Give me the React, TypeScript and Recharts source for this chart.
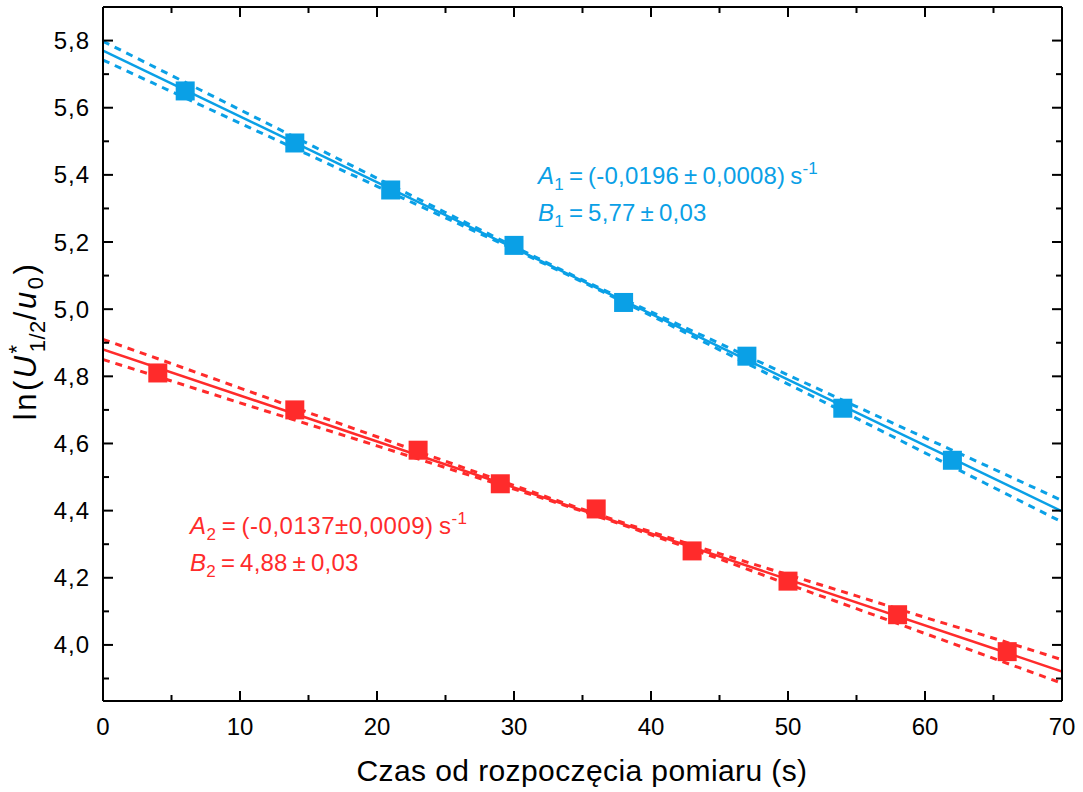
import React from "react";
import {
  ComposedChart,
  Line,
  Scatter,
  XAxis,
  YAxis,
} from "recharts";

// measured series (time in s, ln value)
const blueX = [6, 14, 21, 30, 38, 47, 54, 62];
const blueY = [5.65, 5.495, 5.355, 5.19, 5.02, 4.86, 4.705, 4.55];
const redX = [4, 14, 23, 29, 36, 43, 50, 58, 66];
const redY = [4.81, 4.7, 4.58, 4.48, 4.405, 4.28, 4.19, 4.09, 3.98];

// linear fits, ends of the range
const fitX = [0, 70];
const blueFit = [5.77, 4.398];
const redFit = [4.88, 3.921];

// confidence band
const bandX = [0, 5, 10, 15, 20, 25, 30, 35, 40, 45, 50, 55, 60, 65, 70];
const blueUpper = [5.798, 5.696, 5.594, 5.492, 5.39, 5.288, 5.187, 5.087, 4.992, 4.898, 4.804, 4.71, 4.617, 4.524, 4.43];
const blueLower = [5.742, 5.648, 5.554, 5.46, 5.366, 5.272, 5.178, 5.081, 4.981, 4.879, 4.777, 4.675, 4.572, 4.469, 4.366];
const redUpper = [4.91, 4.838, 4.765, 4.692, 4.62, 4.547, 4.475, 4.404, 4.337, 4.272, 4.209, 4.146, 4.082, 4.02, 3.956];
const redLower = [4.85, 4.786, 4.721, 4.657, 4.593, 4.528, 4.464, 4.398, 4.328, 4.256, 4.181, 4.108, 4.034, 3.96, 3.886];

const xTicks = [0, 5, 10, 15, 20, 25, 30, 35, 40, 45, 50, 55, 60, 65, 70];
const yTicks = [3.9, 4.0, 4.1, 4.2, 4.3, 4.4, 4.5, 4.6, 4.7, 4.8, 4.9, 5.0, 5.1, 5.2, 5.3, 5.4, 5.5, 5.6, 5.7, 5.8, 5.9];

const BLUE = "#0AA0E6";
const RED = "#FF2B2B";
const FONT = "'Liberation Sans', Arial, sans-serif";
const M = 8; // tickMargin

const toPts = (xs: number[], ys: number[]) => xs.map((x, i) => ({ x, y: ys[i] }));

const isMajorX = (v: number) => v % 10 === 0;
const isMajorY = (v: number) => Math.round(v * 10) % 2 === 0;
const fmtY = (v: number) => v.toFixed(1).replace(".", ",");

function BottomTick(props: any) {
  const { x, y, payload } = props;
  const major = isMajorX(payload.value);
  const ay = y - M;
  return (
    <g>
      <line x1={x} y1={ay} x2={x} y2={ay - (major ? 10 : 6)} stroke="#000" strokeWidth={2} />
      {major && (
        <text x={x} y={ay + 34} textAnchor="middle" fontSize={24} fontFamily={FONT} fill="#000">
          {payload.value}
        </text>
      )}
    </g>
  );
}

function TopTick(props: any) {
  const { x, y, payload } = props;
  const major = isMajorX(payload.value);
  const ay = y + M;
  return <line x1={x} y1={ay} x2={x} y2={ay + (major ? 10 : 6)} stroke="#000" strokeWidth={2} />;
}

function LeftTick(props: any) {
  const { x, y, payload } = props;
  const major = isMajorY(payload.value);
  const ax = x + M;
  return (
    <g>
      <line x1={ax} y1={y} x2={ax + (major ? 10 : 6)} y2={y} stroke="#000" strokeWidth={2} />
      {major && (
        <text x={ax - 13} y={y + 8.5} textAnchor="end" fontSize={24} letterSpacing={1}
          fontFamily={FONT} fill="#000">
          {fmtY(payload.value)}
        </text>
      )}
    </g>
  );
}

function RightTick(props: any) {
  const { x, y, payload } = props;
  const major = isMajorY(payload.value);
  const ax = x - M;
  return <line x1={ax} y1={y} x2={ax - (major ? 10 : 6)} y2={y} stroke="#000" strokeWidth={2} />;
}

const square = (color: string) => (p: any) =>
  <rect x={p.cx - 9.5} y={p.cy - 9.5} width={19} height={19} fill={color} />;

export default function App() {
  return (
    <div style={{ position: "relative", width: 1083, height: 792, background: "#fff" }}>
      <style>{"body{margin:0}"}</style>
      <ComposedChart width={1083} height={792} margin={{ top: 6, right: 20, bottom: 0, left: 0 }}>
        <XAxis xAxisId="b" type="number" dataKey="x" domain={[0, 70]} ticks={xTicks} interval={0}
          allowDataOverflow height={91} tickSize={0} tickMargin={M} tick={<BottomTick />}
          axisLine={{ stroke: "#000", strokeWidth: 2 }} tickLine={false} />
        <XAxis xAxisId="t" orientation="top" type="number" dataKey="x" domain={[0, 70]} ticks={xTicks}
          interval={0} allowDataOverflow height={1} tickSize={0} tickMargin={M} tick={<TopTick />}
          axisLine={{ stroke: "#000", strokeWidth: 2 }} tickLine={false} />
        <YAxis yAxisId="l" type="number" dataKey="y" domain={[3.833, 5.9]} ticks={yTicks} interval={0}
          allowDataOverflow width={103} tickSize={0} tickMargin={M} tick={<LeftTick />}
          axisLine={{ stroke: "#000", strokeWidth: 2 }} tickLine={false} />
        <YAxis yAxisId="r" orientation="right" type="number" dataKey="y" domain={[3.833, 5.9]} ticks={yTicks}
          interval={0} allowDataOverflow width={1} tickSize={0} tickMargin={M} tick={<RightTick />}
          axisLine={{ stroke: "#000", strokeWidth: 2 }} tickLine={false} />

        <Line xAxisId="b" yAxisId="l" data={toPts(bandX, blueUpper)} dataKey="y" type="monotone" stroke={BLUE}
          strokeWidth={3} strokeDasharray="7 6" dot={false} isAnimationActive={false} />
        <Line xAxisId="b" yAxisId="l" data={toPts(bandX, blueLower)} dataKey="y" type="monotone" stroke={BLUE}
          strokeWidth={3} strokeDasharray="7 6" dot={false} isAnimationActive={false} />
        <Line xAxisId="b" yAxisId="l" data={toPts(fitX, blueFit)} dataKey="y" type="linear" stroke={BLUE}
          strokeWidth={2.5} dot={false} isAnimationActive={false} />
        <Line xAxisId="b" yAxisId="l" data={toPts(bandX, redUpper)} dataKey="y" type="monotone" stroke={RED}
          strokeWidth={3} strokeDasharray="7 6" dot={false} isAnimationActive={false} />
        <Line xAxisId="b" yAxisId="l" data={toPts(bandX, redLower)} dataKey="y" type="monotone" stroke={RED}
          strokeWidth={3} strokeDasharray="7 6" dot={false} isAnimationActive={false} />
        <Line xAxisId="b" yAxisId="l" data={toPts(fitX, redFit)} dataKey="y" type="linear" stroke={RED}
          strokeWidth={2.5} dot={false} isAnimationActive={false} />

        <Scatter xAxisId="b" yAxisId="l" data={toPts(blueX, blueY)} dataKey="y" shape={square(BLUE)} isAnimationActive={false} />
        <Scatter xAxisId="b" yAxisId="l" data={toPts(redX, redY)} dataKey="y" shape={square(RED)} isAnimationActive={false} />
      </ComposedChart>

      <svg width={1083} height={792} style={{ position: "absolute", left: 0, top: 0, pointerEvents: "none" }}
        fontFamily={FONT}>
        {/* y axis title */}
        <text transform="translate(36,341) rotate(-90)" textAnchor="middle" fontSize={31} letterSpacing={2.5} fill="#000">
          <tspan>ln(</tspan>
          <tspan fontStyle="italic">U</tspan>
          <tspan fontSize={22} dy={-12}>*</tspan>
          <tspan fontSize={22} letterSpacing={0.5} dx={-10} dy={21}>1/2</tspan>
          <tspan dy={-9}>/</tspan>
          <tspan fontStyle="italic">u</tspan>
          <tspan fontSize={22} dy={7}>0</tspan>
          <tspan dy={-7}>)</tspan>
        </text>
        {/* x axis title */}
        <text x={582} y={781} textAnchor="middle" fontSize={30} letterSpacing={0.4} fill="#000">
          Czas od rozpoczęcia pomiaru (s)
        </text>

        <text x={538} y={184} fontSize={24} letterSpacing={0.2} fill={BLUE}>
          <tspan fontStyle="italic">A</tspan>
          <tspan fontSize={17} dy={6}>1</tspan>
          <tspan dy={-6}>{"\u2009=\u2009(-0,0196\u2009±\u20090,0008)\u2009s"}</tspan>
          <tspan fontSize={17} dy={-10}>-1</tspan>
        </text>
        <text x={538} y={221} fontSize={24} letterSpacing={0.2} fill={BLUE}>
          <tspan fontStyle="italic">B</tspan>
          <tspan fontSize={17} dy={6}>1</tspan>
          <tspan dy={-6}>{"\u2009=\u20095,77\u2009±\u20090,03"}</tspan>
        </text>

        <text x={190} y={534} fontSize={24} letterSpacing={0.5} fill={RED}>
          <tspan fontStyle="italic">A</tspan>
          <tspan fontSize={17} dy={6}>2</tspan>
          <tspan dy={-6}>{"\u2009=\u2009(-0,0137±0,0009)\u2009s"}</tspan>
          <tspan fontSize={17} dy={-10}>-1</tspan>
        </text>
        <text x={190} y={571} fontSize={24} letterSpacing={0.2} fill={RED}>
          <tspan fontStyle="italic">B</tspan>
          <tspan fontSize={17} dy={6}>2</tspan>
          <tspan dy={-6}>{"\u2009=\u20094,88\u2009±\u20090,03"}</tspan>
        </text>
      </svg>
    </div>
  );
}
